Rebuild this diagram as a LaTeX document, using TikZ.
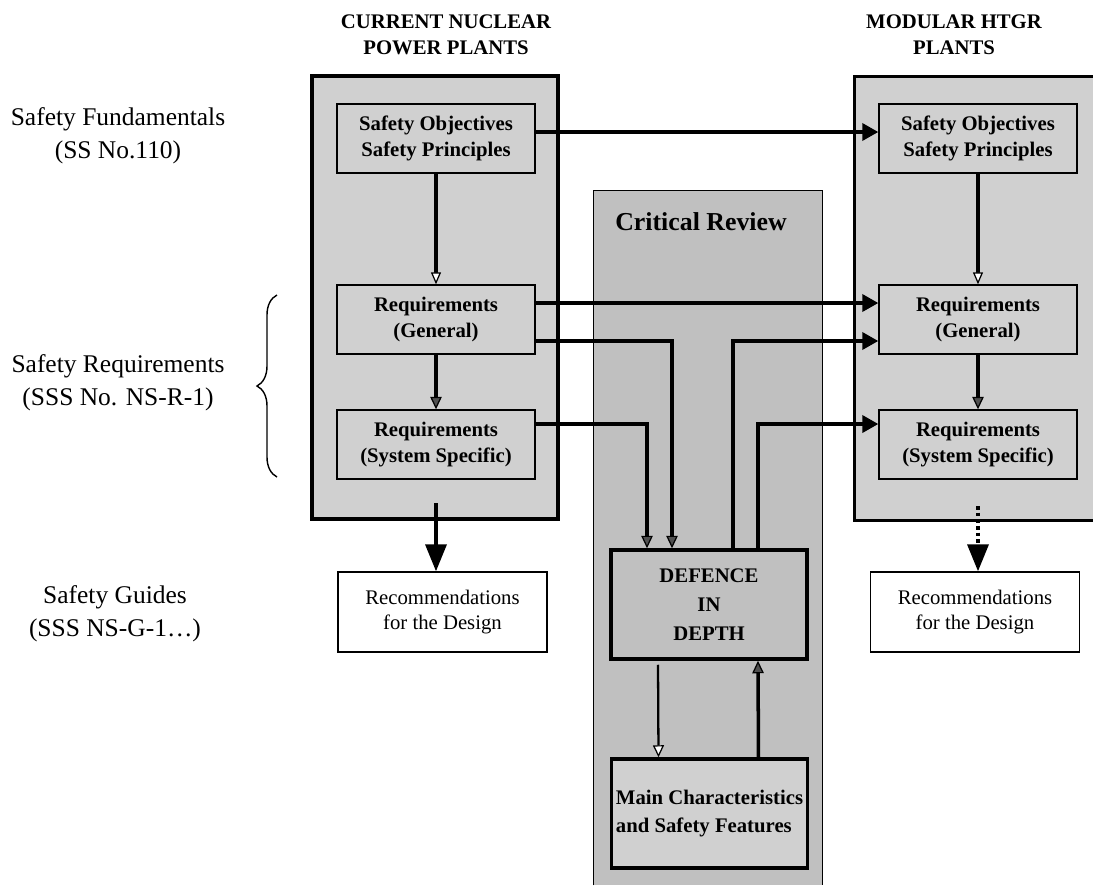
\documentclass[tikz,border=0pt]{standalone}
\usepackage{fontspec}
\setmainfont{Liberation Serif}
\usetikzlibrary{arrows.meta, decorations.pathreplacing}
\definecolor{panelgray}{RGB}{208,208,208}
\definecolor{reviewgray}{RGB}{192,192,192}
\definecolor{tipgray}{RGB}{80,80,80}

\begin{document}
\begin{tikzpicture}[%
        x = 0.02cm, y = -0.02cm,
        > = {Triangle[length = 0.32cm, width = 0.34cm]},
        panel/.style = {
            fill = panelgray, inner sep = 0pt,
            minimum height = 8.86cm
        },
        stage/.style = {
            draw, line width = 0.8pt, fill = panelgray,
            minimum width = 3.96cm, minimum height = 1.38cm,
            align = center, inner sep = 1pt,
            font = \fontsize{11.8}{15.2}\selectfont\bfseries
        },
        advice/.style = {
            draw, line width = 0.8pt, fill = white,
            minimum width = 4.18cm, minimum height = 1.6cm,
            align = center,
            font = \fontsize{11.8}{14.2}\selectfont
        },
        core/.style = {
            draw, line width = 2pt,
            minimum width = 3.92cm, minimum height = 2.18cm,
            inner sep = 1pt
        },
        level/.style = {align = center, font = \fontsize{14.5}{19}\selectfont},
        heading/.style = {align = center, font = \fontsize{11.8}{14.8}\selectfont\bfseries},
        link/.style = {line width = 2pt, ->},
        descend/.style = {
            line width = 2pt,
            -{Triangle[length = 0.24cm, width = 0.2cm, fill = white, line width = 0.7pt]}
        },
        feed/.style = {
            line width = 2pt,
            -{Triangle[length = 0.25cm, width = 0.23cm, fill = tipgray, line width = 0.7pt]}
        },
        handoff/.style = {
            line width = 2pt,
            -{Triangle[length = 0.54cm, width = 0.42cm]}
        }
    ]

        \useasboundingbox (0, 0) rectangle (1093, 886);

        % Background panels: current plants, critical review, modular HTGR.
        \node[panel, minimum width = 4.92cm, draw, line width = 2pt] (cur) at (435, 297.5) {};
        \node[fill = reviewgray, minimum width = 4.56cm, minimum height = 13.88cm, inner sep = 0pt] (crit) at (708, 538) {};
        \draw[line width = 0.8pt] (crit.south west) -- (crit.north west) -- (crit.north east) -- (crit.south east);
        \node[panel, minimum width = 4.76cm] (mod) at (974, 298.5) {};
        \draw[line width = 2pt] (mod.north east) -- (mod.north west) -- (mod.south west) -- (mod.south east);

        % Column headings and the document levels on the left.
        \node[heading] (curhead) at (446, 35) {CURRENT NUCLEAR\\POWER PLANTS};
        \node[heading] (modhead) at (954, 35) {MODULAR HTGR\\PLANTS};
        \node[level] (fund) at (118, 136) {Safety Fundamentals\\(SS No.110)};
        \node[level] (reqs) at (118, 383) {Safety Requirements\\(SSS No. NS-R-1)};
        \node[level] (guides) at (115, 614) {Safety Guides\\(SSS NS-G-1\ldots)};
        \draw[decorate, decoration = {brace, amplitude = 0.4cm}, line width = 0.8pt] (277, 477) -- (277, 295);

        \node[font = \fontsize{14.7}{18}\selectfont\bfseries] (crittitle) at (701, 222) {Critical Review};

        % Boxes in the current plants column.
        \node[stage] (soL) at (436, 138.5) {Safety Objectives\\Safety Principles};
        \node[stage] (rgL) at (436, 319.5) {Requirements\\(General)};
        \node[stage] (ssL) at (436, 444.5) {Requirements\\(System Specific)};
        \node[advice] (recL) at (442.5, 612) {Recommendations\\for the Design};

        % Boxes in the modular HTGR column.
        \node[stage] (soR) at (978, 138.5) {Safety Objectives\\Safety Principles};
        \node[stage] (rgR) at (978, 319.5) {Requirements\\(General)};
        \node[stage] (ssR) at (978, 444.5) {Requirements\\(System Specific)};
        \node[advice] (recR) at (975, 612) {Recommendations\\for the Design};

        % Defence in depth and the plant features.
        \node[core, fill = reviewgray, align = center,
              font = \fontsize{11.8}{16.5}\selectfont\bfseries] (did) at (709, 604.5) {DEFENCE\\IN\\DEPTH};
        \node[core, fill = panelgray, align = left,
              font = \fontsize{11.8}{15.5}\selectfont\bfseries] (feat) at (709.5, 813.5) {Main Characteristics\\and Safety Features};

        \coordinate (curout) at (436, 503);
        \coordinate (modout) at (978, 506);

        % Arrows inside the two columns.
        \draw[descend] (soL) -- (rgL);
        \draw[feed] (rgL) -- (ssL);
        \draw[descend] (soR) -- (rgR);
        \draw[feed] (rgR) -- (ssR);
        \draw[handoff] (curout) -- (curout |- recL.north);
        \draw[handoff, dash pattern = on 2pt off 1.8pt] (modout) -- (modout |- recR.north);

        % Arrows across the critical review.
        \draw[link] ([yshift = 0.13cm]soL.east) -- ([yshift = 0.13cm]soR.west);
        \draw[link] ([yshift = 0.33cm]rgL.east) -- ([yshift = 0.33cm]rgR.west);
        \draw[feed] ([yshift = -0.43cm]rgL.east) -| ([xshift = -0.74cm]did.north);
        \draw[feed] ([yshift = 0.41cm]ssL.east) -| ([xshift = -1.24cm]did.north);
        \draw[link] ([xshift = 0.48cm]did.north) |- ([yshift = -0.43cm]rgR.west);
        \draw[link] ([xshift = 0.98cm]did.north) |- ([yshift = 0.41cm]ssR.west);

        % Loop between defence in depth and the plant features.
        \draw[line width = 1.3pt, -{Triangle[length = 0.24cm, width = 0.22cm, fill = white, line width = 0.7pt]}]
            ([xshift = -1.02cm, yshift = -0.08cm]did.south) -- ([xshift = -1.02cm]feat.north);
        \draw[feed] ([xshift = 0.98cm]feat.north) -- ([xshift = 0.98cm]did.south);
    \end{tikzpicture}
\end{document}
